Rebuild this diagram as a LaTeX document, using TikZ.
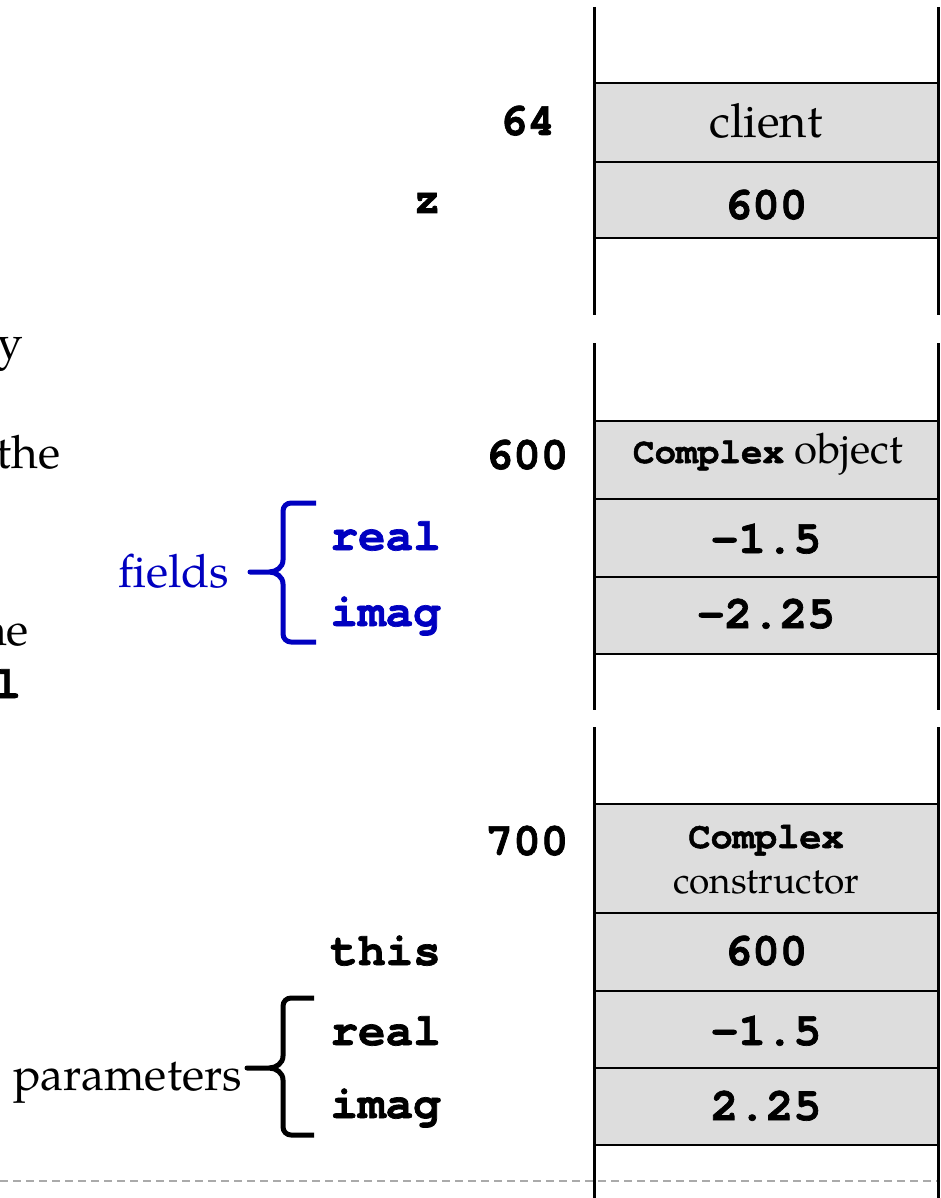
\documentclass[tikz,border=0pt]{standalone}
\usepackage{fontspec}
\setmainfont{TeX Gyre Pagella}
\newfontfamily\cmono{TeX Gyre Cursor}[BoldFeatures={FakeBold=1.5}]
\definecolor{fieldblue}{RGB}{0,0,192}
\definecolor{cellgray}{RGB}{221,221,221}
\definecolor{dashgray}{RGB}{170,170,170}
\begin{document}
\begin{tikzpicture}[x=1pt,y=-1pt,
  cell/.style={draw, fill=cellgray, line width=2pt, minimum width=344pt, inner sep=0pt, outer sep=0pt},
  stackline/.style={line width=3pt},
  val/.style={font=\fontsize{46}{46}\cmono\bfseries, anchor=base, inner sep=0pt},
  lab/.style={font=\fontsize{46}{46}\cmono\bfseries, anchor=base east, inner sep=0pt},
  serif/.style={font=\fontsize{46}{46}\selectfont, anchor=base west, inner sep=0pt},
  bracestyle/.style={line width=5pt, line join=round, line cap=butt}
]
\useasboundingbox (0,0) rectangle (940,1198);

% dashed separator
\draw[dashgray, line width=1.5pt, dash pattern=on 8pt off 5pt] (0,1181) -- (940,1181);

% segment 1
\node[cell, minimum height=79pt] (c1) at (766,122.5) {};
\node[cell, minimum height=76pt] (c2) at (766,200) {};
% segment 2
\node[cell, minimum height=78pt] (d1) at (766,460) {};
\node[cell, minimum height=78pt] (d2) at (766,538) {};
\node[cell, minimum height=77pt] (d3) at (766,615.5) {};
% segment 3
\node[cell, minimum height=109pt] (e1) at (766,858.5) {};
\node[cell, minimum height=78pt] (e2) at (766,952) {};
\node[cell, minimum height=77pt] (e3) at (766,1029.5) {};
\node[cell, minimum height=77pt] (e4) at (766,1106.5) {};

% stack side lines
\draw[stackline] (594,7) -- (594,315);
\draw[stackline] (938,7) -- (938,315);
\draw[stackline] (594,343) -- (594,710);
\draw[stackline] (938,343) -- (938,710);
\draw[stackline] (594,727) -- (594,1198);
\draw[stackline] (938,727) -- (938,1198);

% cell texts
\node[anchor=base, inner sep=0pt, font=\fontsize{47}{47}\selectfont] (tclient) at (766,138) {client};
\node[val] (t600a) at (766,219) {600};
\node[anchor=base, inner sep=0pt, font=\fontsize{42}{42}\selectfont] (tobj) at (768,463) {{\fontsize{36}{36}\cmono\bfseries Complex}\ object};
\node[val] (tr1) at (766,553) {-1.5};
\node[val] (ti1) at (766,628) {-2.25};
\node[anchor=base, inner sep=0pt, font=\fontsize{37}{37}\cmono\bfseries] (tcx) at (766,848) {Complex};
\node[anchor=base, inner sep=0pt, font=\fontsize{37}{37}\selectfont] (tcons) at (766,893) {constructor};
\node[val] (t600b) at (766,965) {600};
\node[val] (tr2) at (766,1045) {-1.5};
\node[val] (ti2) at (766,1120) {2.25};

% address / variable labels
\node[val] (a64) at (527.5,135) {64};
\node[lab] (lz) at (441,213) {z};
\node[val] (a600) at (527,469) {600};
\node[val] (a700) at (527,855) {700};
\node[lab] (lthis) at (441,965) {this};
\node[lab] (lreal) at (441,1045) {real};
\node[lab] (limag) at (441,1118) {imag};
\node[lab, text=fieldblue] (freal) at (441,550) {real};
\node[lab, text=fieldblue] (fimag) at (441,626) {imag};

% brace labels
\node[serif, text=fieldblue] (lfields) at (118,587) {fields};
\node[serif] (lparams) at (13,1090) {parameters};

% cut-off text at the left edge
\node[serif] (ly) at (-3,358) {y};
\node[serif] (lthe) at (-4,468) {the};
\node[serif] (lne) at (-20,645) {ne};
\node[font=\fontsize{46}{46}\cmono\bfseries, anchor=base east, inner sep=0pt] (ll) at (21,698) {l};

% fields brace (blue)
\draw[bracestyle, fieldblue] (316,503) -- (291,503) to[out=180,in=90] (283,511) -- (283,560)
  to[out=-90,in=0] (269,572) -- (250,572) -- (269,572)
  to[out=0,in=90] (283,584) -- (283,634) to[out=-90,in=180] (291,642) -- (316,642);

% parameters brace (black)
\draw[bracestyle] (314,998) -- (291,998) to[out=180,in=90] (283,1006) -- (283,1056)
  to[out=-90,in=0] (269,1068) -- (247,1068) -- (269,1068)
  to[out=0,in=90] (283,1080) -- (283,1127) to[out=-90,in=180] (291,1135) -- (314,1135);
\end{tikzpicture}
\end{document}
